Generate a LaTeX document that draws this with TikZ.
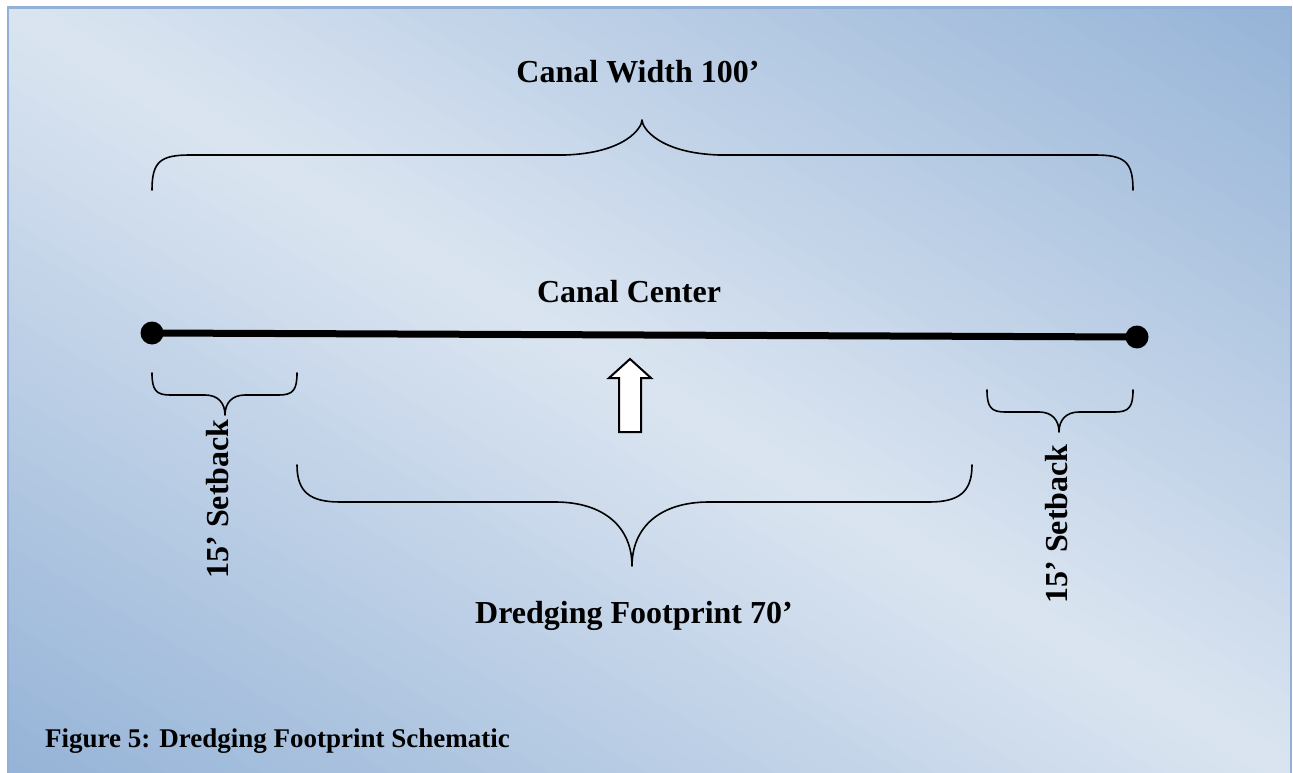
\documentclass[tikz,border=0pt]{standalone}
\usepackage{fontspec}
\setmainfont{Liberation Serif}
\definecolor{wblue}{HTML}{95B3D7}
\definecolor{wlight}{HTML}{DBE5F1}
\definecolor{wborder}{HTML}{93B1D8}
\begin{document}
\begin{tikzpicture}[x=1pt,y=-1pt,
  lbl/.style={font=\fontsize{32}{38}\selectfont\bfseries, inner sep=0pt},
  caplbl/.style={font=\fontsize{27}{31}\selectfont\bfseries, inner sep=0pt},
  brace/.style={line width=1.6pt, line cap=round, line join=round},
  dot/.style={circle, fill=black, inner sep=0pt, minimum size=23pt},
  uparrow/.style={line width=2pt, fill=white, line join=miter}]
\useasboundingbox (0,0) rectangle (1293,773);
% background gradient
\begin{scope}
  \clip (8,7) rectangle (1291,790);
  \begin{scope}[shift={(649.5,390)}, rotate=-30.84]
    \foreach \i in {-40,...,39} {
      \pgfmathsetmacro{\t}{100*abs(\i+0.5)/40}
      \fill[wblue!\t!wlight] (-1000,\i*16.5) rectangle (1000,\i*16.5+17);
    }
  \end{scope}
\end{scope}
\draw[wborder, line width=2.5pt] (8,7.5) rectangle (1291,790);

% texts
\node[lbl, anchor=base] (cw) at (638,83) {Canal Width 100’};
\node[lbl, anchor=base] (cc) at (629,302) {Canal Center};
\node[lbl, anchor=base] (df) at (634,623) {Dredging Footprint 70’};
\node[lbl, rotate=90] (sl) at (218,499) {15’ Setback};
\node[lbl, rotate=90] (sr) at (1057,524) {15’ Setback};
\node[caplbl, anchor=base west] (cap) at (45,747) {Figure 5: Dredging Footprint Schematic};

% canal center line
\node[dot] (L) at (152,333) {};
\node[dot] (R) at (1137,337) {};
\draw[line width=7pt] (L.center) -- (R.center);

% top brace
\draw[brace] (152,190) .. controls (152,162) and (160,155) .. (190,155) -- (565,155)
  .. controls (625,153) and (642,128) .. (642,120)
  .. controls (642,128) and (659,153) .. (719,155) -- (1095,155)
  .. controls (1125,155) and (1133,162) .. (1133,190);

% left small brace
\draw[brace] (152,373) .. controls (152,390) and (156,395) .. (170,395) -- (205,395)
  .. controls (218,395) and (225,403) .. (225,415)
  .. controls (225,403) and (232,395) .. (245,395) -- (279,395)
  .. controls (293,395) and (297,390) .. (297,373);

% right small brace
\draw[brace] (987,390) .. controls (987,407) and (991,412) .. (1005,412) -- (1039,412)
  .. controls (1052,412) and (1059,420) .. (1059,432)
  .. controls (1059,420) and (1066,412) .. (1079,412) -- (1115,412)
  .. controls (1129,412) and (1133,407) .. (1133,390);

% middle brace
\draw[brace] (297,465) .. controls (297,492) and (310,502) .. (340,502) -- (555,502)
  .. controls (605,502) and (632,528) .. (632,566)
  .. controls (632,528) and (659,502) .. (709,502) -- (929,502)
  .. controls (959,502) and (972,492) .. (972,465);

% up arrow
\draw[uparrow] (630,359) -- (651,378) -- (641,378) -- (641,432) -- (619,432) -- (619,378) -- (609,378) -- cycle;
\end{tikzpicture}
\end{document}
